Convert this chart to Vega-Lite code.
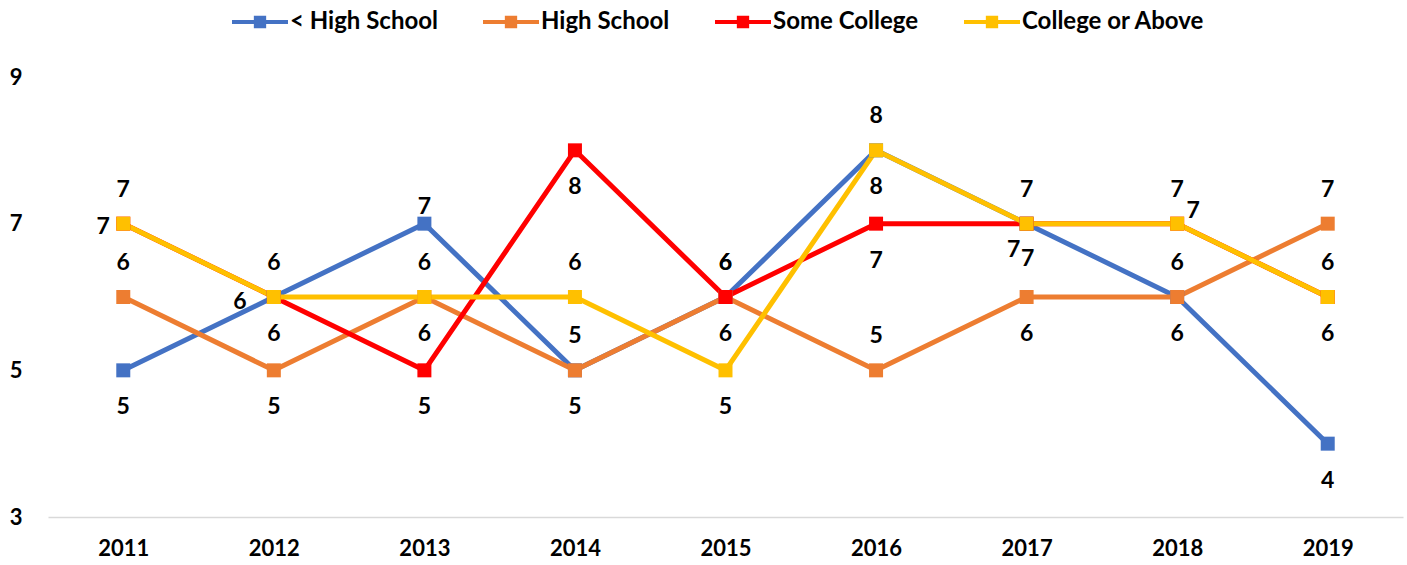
{
  "$schema": "https://vega.github.io/schema/vega-lite/v6.json",
  "width": 1355,
  "height": 440,
  "autosize": {"type": "none"},
  "padding": {"left": 48, "top": 77, "right": 4, "bottom": 48},
  "background": "white",
  "config": {"view": {"stroke": null}, "font": "Lato"},
  "data": {"values": [
    {"year": "2011", "series": "< High School", "value": 5},
    {"year": "2012", "series": "< High School", "value": 6},
    {"year": "2013", "series": "< High School", "value": 7},
    {"year": "2014", "series": "< High School", "value": 5},
    {"year": "2015", "series": "< High School", "value": 6},
    {"year": "2016", "series": "< High School", "value": 8},
    {"year": "2017", "series": "< High School", "value": 7},
    {"year": "2018", "series": "< High School", "value": 6},
    {"year": "2019", "series": "< High School", "value": 4},
    {"year": "2011", "series": "High School", "value": 6},
    {"year": "2012", "series": "High School", "value": 5},
    {"year": "2013", "series": "High School", "value": 6},
    {"year": "2014", "series": "High School", "value": 5},
    {"year": "2015", "series": "High School", "value": 6},
    {"year": "2016", "series": "High School", "value": 5},
    {"year": "2017", "series": "High School", "value": 6},
    {"year": "2018", "series": "High School", "value": 6},
    {"year": "2019", "series": "High School", "value": 7},
    {"year": "2011", "series": "Some College", "value": 7},
    {"year": "2012", "series": "Some College", "value": 6},
    {"year": "2013", "series": "Some College", "value": 5},
    {"year": "2014", "series": "Some College", "value": 8},
    {"year": "2015", "series": "Some College", "value": 6},
    {"year": "2016", "series": "Some College", "value": 7},
    {"year": "2017", "series": "Some College", "value": 7},
    {"year": "2018", "series": "Some College", "value": 7},
    {"year": "2019", "series": "Some College", "value": 6},
    {"year": "2011", "series": "College or Above", "value": 7},
    {"year": "2012", "series": "College or Above", "value": 6},
    {"year": "2013", "series": "College or Above", "value": 6},
    {"year": "2014", "series": "College or Above", "value": 6},
    {"year": "2015", "series": "College or Above", "value": 5},
    {"year": "2016", "series": "College or Above", "value": 8},
    {"year": "2017", "series": "College or Above", "value": 7},
    {"year": "2018", "series": "College or Above", "value": 7},
    {"year": "2019", "series": "College or Above", "value": 6}
  ]},
  "transform": [{"calculate": "datum.series + '|' + datum.year", "as": "key"}],
  "encoding": {
    "x": {"field": "year", "type": "ordinal", "sort": null,
      "scale": {"type": "point", "padding": 0.5},
      "axis": {"title": null, "labelAngle": 0, "ticks": false, "grid": false,
        "domainColor": "#d9d9d9", "domainWidth": 1.5,
        "labelFont": "Lato", "labelFontSize": 22, "labelFontWeight": "bold", "labelColor": "#000000",
        "labelPadding": 21}},
    "y": {"field": "value", "type": "quantitative",
      "scale": {"domain": [3, 9], "nice": false, "zero": false},
      "axis": {"title": null, "values": [3, 5, 7, 9], "grid": false, "ticks": false, "domain": false,
        "labelFont": "Lato", "labelFontSize": 22, "labelFontWeight": "bold", "labelColor": "#000000",
        "labelPadding": 26}}
  },
  "layer": [
    {
      "mark": {"type": "line", "strokeWidth": 5},
      "encoding": {
        "color": {"field": "series", "type": "nominal",
          "scale": {"domain": ["< High School", "High School", "Some College", "College or Above"],
                    "range": ["#4472C4", "#ED7D31", "#FF0000", "#FFC000"]},
          "legend": {"title": null, "orient": "none", "direction": "horizontal",
            "legendX": 184, "legendY": -83,
            "symbolType": "M-1,-0.07 L1,-0.07 L1,0.07 L-1,0.07 Z M-0.22,-0.22 L0.22,-0.22 L0.22,0.22 L-0.22,0.22 Z",
            "symbolSize": 3136, "symbolStrokeWidth": 0, "symbolOpacity": 1,
            "labelFont": "Lato", "labelFontSize": 24, "labelFontWeight": "bold", "labelColor": "#000000",
            "labelOffset": 2, "columnPadding": 45, "labelLimit": 400,
            "encode": {"symbols": {"update": {"fill": {"field": "value", "scale": "color"}, "strokeWidth": {"value": 0}}}}}}
      }
    },
    {
      "mark": {"type": "point", "shape": "square", "filled": true, "size": 196, "opacity": 1},
      "encoding": {"color": {"field": "series", "type": "nominal", "legend": null}}
    },
    {
      "transform": [{"filter": "indexof(['High School|2011','High School|2013','High School|2014','High School|2016','High School|2018','High School|2019','Some College|2015','< High School|2015','College or Above|2011','College or Above|2012','College or Above|2014','College or Above|2016','College or Above|2017','College or Above|2018','College or Above|2019'], datum.key) >= 0"}],
      "mark": {"type": "text", "dy": -34, "font": "Lato", "fontSize": 23, "fontWeight": "bold", "color": "#000000"},
      "encoding": {"text": {"field": "value", "type": "quantitative"}}
    },
    {
      "transform": [{"filter": "datum.key == '< High School|2013'"}],
      "mark": {"type": "text", "dy": -17, "font": "Lato", "fontSize": 23, "fontWeight": "bold", "color": "#000000"},
      "encoding": {"text": {"field": "value", "type": "quantitative"}}
    },
    {
      "transform": [{"filter": "indexof(['< High School|2011','< High School|2014','< High School|2016','< High School|2018','< High School|2019','High School|2012','High School|2015','High School|2017','Some College|2012','Some College|2013','Some College|2014','Some College|2016','Some College|2019','College or Above|2013','College or Above|2015'], datum.key) >= 0"}],
      "mark": {"type": "text", "dy": 37, "font": "Lato", "fontSize": 23, "fontWeight": "bold", "color": "#000000"},
      "encoding": {"text": {"field": "value", "type": "quantitative"}}
    },
    {
      "transform": [{"filter": "datum.key == 'Some College|2017'"}],
      "mark": {"type": "text", "dx": 1, "dy": 35, "font": "Lato", "fontSize": 23, "fontWeight": "bold", "color": "#000000"},
      "encoding": {"text": {"field": "value", "type": "quantitative"}}
    },
    {
      "transform": [{"filter": "datum.key == 'Some College|2011'"}],
      "mark": {"type": "text", "dx": -20, "dy": 3, "font": "Lato", "fontSize": 23, "fontWeight": "bold", "color": "#000000"},
      "encoding": {"text": {"field": "value", "type": "quantitative"}}
    },
    {
      "transform": [{"filter": "datum.key == '< High School|2012'"}],
      "mark": {"type": "text", "dx": -34, "dy": 5, "font": "Lato", "fontSize": 23, "fontWeight": "bold", "color": "#000000"},
      "encoding": {"text": {"field": "value", "type": "quantitative"}}
    },
    {
      "transform": [{"filter": "datum.key == '< High School|2017'"}],
      "mark": {"type": "text", "dx": -13, "dy": 26, "font": "Lato", "fontSize": 23, "fontWeight": "bold", "color": "#000000"},
      "encoding": {"text": {"field": "value", "type": "quantitative"}}
    },
    {
      "transform": [{"filter": "datum.key == 'Some College|2018'"}],
      "mark": {"type": "text", "dx": 16, "dy": -13, "font": "Lato", "fontSize": 23, "fontWeight": "bold", "color": "#000000"},
      "encoding": {"text": {"field": "value", "type": "quantitative"}}
    }
  ]
}
